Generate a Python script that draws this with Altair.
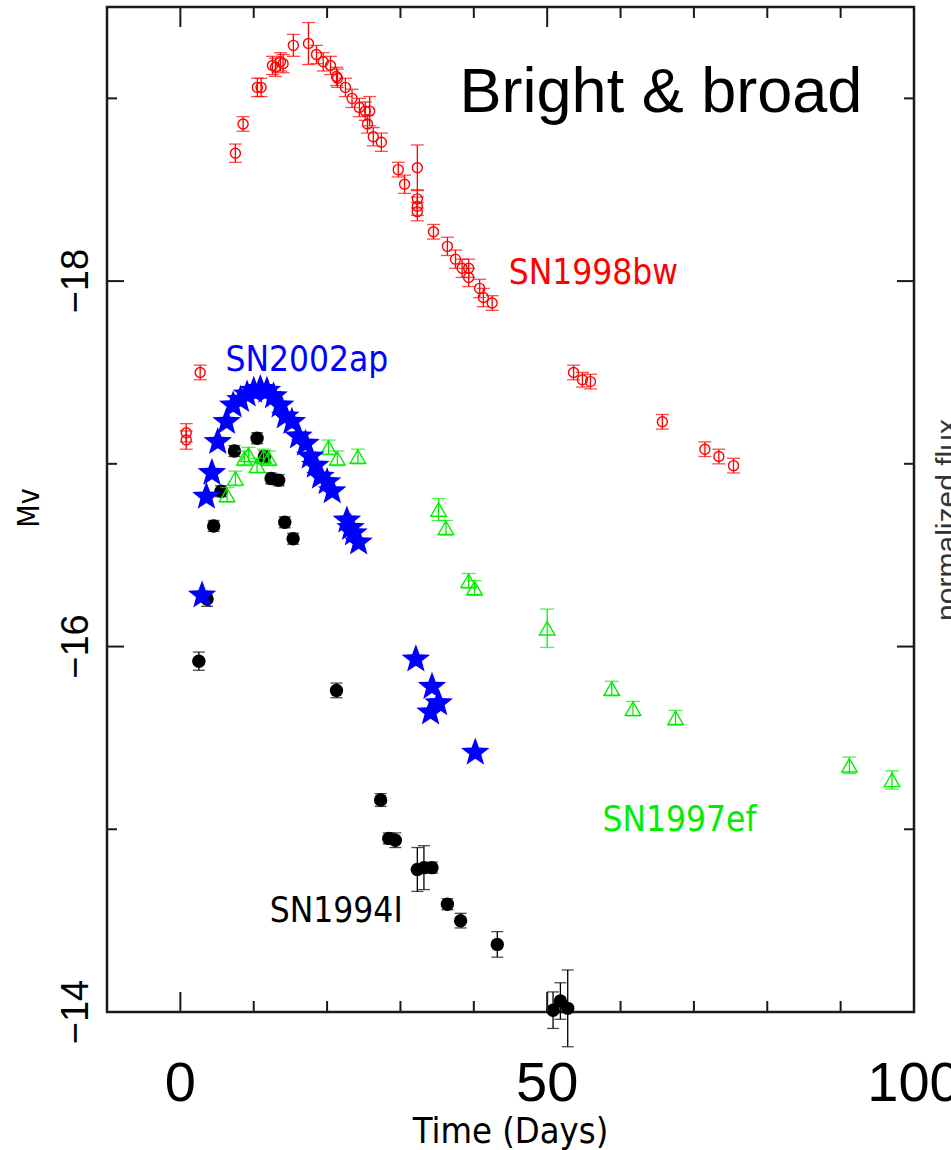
import altair as alt
import pandas as pd

# ---------------- data ----------------
# SN1998bw (red open circles with error bars)
bw_t = [0.8, 0.8, 2.7, 7.5, 8.55, 10.5, 11.0, 12.55, 12.96, 13.64, 14.0, 15.4, 17.46, 18.55,
        19.47, 20.46, 21.28, 21.42, 22.5, 23.4, 24.4, 25.2, 25.8, 25.5, 26.3, 27.4, 29.7, 30.56,
        32.3, 32.3, 32.3, 32.3, 34.5, 36.4, 37.5, 38.4, 39.3, 39.3, 40.8, 41.3, 42.5,
        53.6, 54.8, 55.9, 65.7, 71.5, 73.4, 75.4]
bw_m = [-17.17, -17.13, -17.50, -18.70, -18.86, -19.06, -19.06, -19.18, -19.17, -19.20, -19.19,
        -19.29, -19.30, -19.24, -19.20, -19.18, -19.12, -19.11, -19.06, -19.00, -18.95, -18.93,
        -18.93, -18.86, -18.79, -18.76, -18.61, -18.53, -18.62, -18.45, -18.41, -18.38, -18.27,
        -18.19, -18.12, -18.07, -18.07, -18.02, -17.96, -17.91, -17.88, -17.50, -17.46, -17.45,
        -17.23, -17.08, -17.04, -16.99]
bw_e = [0.05, 0.05, 0.04, 0.05, 0.04, 0.05, 0.05, 0.05, 0.05, 0.05, 0.05, 0.06, 0.115, 0.05,
        0.05, 0.05, 0.05, 0.05, 0.05, 0.05, 0.05, 0.05, 0.08, 0.05, 0.05, 0.05, 0.04, 0.05,
        0.125, 0.05, 0.05, 0.05, 0.04, 0.05, 0.05, 0.05, 0.05, 0.05, 0.05, 0.05, 0.04,
        0.04, 0.04, 0.04, 0.04, 0.04, 0.04, 0.04]

# SN2002ap (blue stars)
ap_t = [2.96, 3.55, 4.3, 5.1, 6.3, 7.2, 8.2, 9.1, 10.0, 10.9, 11.8, 12.7, 13.6, 14.3, 15.2, 16.1,
        17.05, 17.7, 18.4, 19.1, 20.0, 20.7, 22.7, 23.2, 23.6, 24.3, 32.1, 34.3, 35.2, 34.1, 40.2]
ap_m = [-16.28, -16.82, -16.95, -17.12, -17.23, -17.32, -17.35, -17.38, -17.40, -17.41, -17.40,
        -17.37, -17.32, -17.26, -17.23, -17.15, -17.11, -17.04, -16.99, -16.93, -16.90, -16.85,
        -16.69, -16.65, -16.62, -16.57, -15.93, -15.78, -15.69, -15.64, -15.42]

# SN1994I (black filled circles with error bars)
i_t = [2.52, 3.64, 4.54, 5.55, 7.37, 10.46, 11.46, 12.37, 13.4, 14.23, 15.37, 21.28, 27.3, 28.4,
       29.3, 32.3, 33.2, 34.3, 36.4, 38.2, 43.2, 50.8, 51.8, 52.8]
i_m = [-15.92, -16.26, -16.66, -16.85, -17.07, -17.14, -17.04, -16.92, -16.91, -16.68, -16.59,
       -15.76, -15.16, -14.95, -14.94, -14.78, -14.79, -14.79, -14.59, -14.50, -14.37, -14.01,
       -14.06, -14.02]
i_e = [0.05, 0.04, 0.03, 0.03, 0.03, 0.03, 0.03, 0.03, 0.03, 0.03, 0.03, 0.04, 0.035, 0.03,
       0.04, 0.12, 0.12, 0.03, 0.03, 0.04, 0.07, 0.10, 0.10, 0.21]

# SN1997ef (green open triangles with error bars)
ef_t = [6.37, 7.5, 8.73, 9.3, 10.46, 11.36, 12.05, 20.2, 21.4, 24.2, 35.2, 36.2, 39.3, 40.1,
        50.0, 58.8, 61.7, 67.5, 91.2, 97.0]
ef_m = [-16.83, -16.92, -17.03, -17.05, -16.99, -17.04, -17.03, -17.09, -17.03, -17.04, -16.75,
        -16.65, -16.36, -16.32, -16.10, -15.77, -15.66, -15.61, -15.35, -15.27]
ef_e = [0.04, 0.04, 0.04, 0.04, 0.04, 0.04, 0.04, 0.04, 0.04, 0.04, 0.06, 0.04, 0.04, 0.04,
        0.105, 0.04, 0.04, 0.04, 0.045, 0.05]

# annotations
lab_text = ["SN1998bw", "SN2002ap", "SN1997ef", "SN1994I"]
lab_t = [44.75, 6.14, 57.53, 12.18]
lab_m = [-17.984, -17.507, -14.99, -14.49]
lab_c = ["#ff0000", "#0000ff", "#00ee00", "#000000"]
head_text = ["Bright & broad"]
head_t = [38.06]
head_m = [-18.925]
side_text = ["normalized flux"]
x_title = ["Time (Days)"]
y_title = ["Mv"]

# axis ticks and tick labels
x_major = [0, 50]
x_minor = [10, 20, 30, 40, 60, 70, 80, 90]
y_major = [-18, -16]
y_minor = [-19, -17, -15]
x_labels = [0, 50, 100]
y_labels = [-18, -16, -14]

# ---------------- chart ----------------
W, H = 807, 1005
NARROW = "Liberation Sans Narrow, DejaVu Sans Condensed, Liberation Sans, sans-serif"
ARIAL = "Liberation Sans"
FRAME = "#1a1a1a"

xs = alt.Scale(domain=[-10, 100], nice=False, zero=False)
ys = alt.Scale(domain=[-19.5, -14], reverse=True, nice=False, zero=False)

RED, BLUE, GREEN, BLACK = "#ff0000", "#0000ff", "#00ee00", "#000000"

STAR = ("M0,-1L0.2469,-0.3399L0.9511,-0.309L0.3996,0.1298L0.5878,0.809L0,0.42"
        "L-0.5878,0.809L-0.3996,0.1298L-0.9511,-0.309L-0.2469,-0.3399Z")


def X(f="t"):
    return alt.X(f"{f}:Q", scale=xs, axis=None)


def Y(f="M"):
    return alt.Y(f"{f}:Q", scale=ys, axis=None)


def err_layers(df, color, cap, sw=1.3):
    base = alt.Chart(df).transform_calculate(lo="datum.M - datum.e", hi="datum.M + datum.e")
    bar = base.mark_rule(color=color, strokeWidth=sw).encode(x=X(), y=Y("lo"), y2="hi:Q")
    c1 = base.mark_tick(color=color, orient="horizontal", size=cap, thickness=sw).encode(
        x=X(), y=Y("lo"))
    c2 = base.mark_tick(color=color, orient="horizontal", size=cap, thickness=sw).encode(
        x=X(), y=Y("hi"))
    return [bar, c1, c2]


df_bw = pd.DataFrame({"t": bw_t, "M": bw_m, "e": bw_e})
df_ap = pd.DataFrame({"t": ap_t, "M": ap_m})
df_i = pd.DataFrame({"t": i_t, "M": i_m, "e": i_e})
df_ef = pd.DataFrame({"t": ef_t, "M": ef_m, "e": ef_e})

layers = []

# red series
layers += err_layers(df_bw, RED, 13)
layers.append(alt.Chart(df_bw).mark_point(shape="circle", size=100, color=RED, strokeWidth=1.4,
                                          filled=False, opacity=1).encode(x=X(), y=Y()))

# black series
layers += err_layers(df_i, BLACK, 12)
layers.append(alt.Chart(df_i).mark_point(shape="circle", size=180, color=BLACK, filled=True,
                                         opacity=1).encode(x=X(), y=Y()))

# green series
layers += err_layers(df_ef, GREEN, 14)
layers.append(alt.Chart(df_ef).mark_point(shape="triangle-up", size=240, color=GREEN,
                                          strokeWidth=1.4, filled=False, opacity=1).encode(
    x=X(), y=Y()))

# blue stars
layers.append(alt.Chart(df_ap).mark_point(shape=STAR, size=900, color=BLUE, filled=True,
                                          opacity=1).encode(x=X(), y=Y()))

# series labels
df_lab = pd.DataFrame({"txt": lab_text, "t": lab_t, "M": lab_m, "c": lab_c})
layers.append(alt.Chart(df_lab).mark_text(font=NARROW, fontSize=35, align="left",
                                          baseline="alphabetic").encode(
    x=X(), y=Y(), text="txt:N", color=alt.Color("c:N", scale=None)))

df_head = pd.DataFrame({"txt": head_text, "t": head_t, "M": head_m})
layers.append(alt.Chart(df_head).mark_text(font=ARIAL, fontSize=63, align="left",
                                           baseline="alphabetic", color="black").encode(
    x=X(), y=Y(), text="txt:N"))

# cut-off label of the neighbouring panel
df_side = pd.DataFrame({"txt": side_text})
layers.append(alt.Chart(df_side).mark_text(font=ARIAL, fontSize=30, angle=270,
                                           align="center", baseline="top",
                                           color="#333333").encode(
    x=alt.value(W + 19), y=alt.value(513), text="txt:N"))


# inward ticks on all four sides
def xticks(vals, length):
    d = pd.DataFrame({"v": vals})
    bot = alt.Chart(d).mark_rule(color=FRAME, strokeWidth=2).encode(
        x=X("v"), y=alt.value(H), y2=alt.value(H - length))
    top = alt.Chart(d).mark_rule(color=FRAME, strokeWidth=2).encode(
        x=X("v"), y=alt.value(0), y2=alt.value(length))
    return [bot, top]


def yticks(vals, length):
    d = pd.DataFrame({"v": vals})
    left = alt.Chart(d).mark_rule(color=FRAME, strokeWidth=2).encode(
        y=Y("v"), x=alt.value(0), x2=alt.value(length))
    right = alt.Chart(d).mark_rule(color=FRAME, strokeWidth=2).encode(
        y=Y("v"), x=alt.value(W), x2=alt.value(W - length))
    return [left, right]


layers += xticks(x_major, 20) + xticks(x_minor, 11)
layers += yticks(y_major, 17) + yticks(y_minor, 10)

# tick labels (drawn through the scales)
df_xl = pd.DataFrame({"v": x_labels, "s": [str(v) for v in x_labels]})
layers.append(alt.Chart(df_xl).mark_text(font=ARIAL, fontSize=56, align="center",
                                         baseline="alphabetic", color="black").encode(
    x=X("v"), y=alt.value(H + 89), text="s:N"))

df_yl = pd.DataFrame({"v": y_labels, "s": [str(v).replace("-", "\u2212") for v in y_labels]})
layers.append(alt.Chart(df_yl).mark_text(font=ARIAL, fontSize=38, angle=270, align="center",
                                         baseline="alphabetic", color="black").encode(
    y=Y("v"), x=alt.value(-19), text="s:N"))

# axis titles
layers.append(alt.Chart(pd.DataFrame({"s": x_title})).mark_text(
    font=NARROW, fontSize=36, align="center", baseline="alphabetic", color="black").encode(
    x=alt.value(W / 2), y=alt.value(H + 131), text="s:N"))
layers.append(alt.Chart(pd.DataFrame({"s": y_title})).mark_text(
    font=NARROW, fontSize=30, angle=270, align="center", baseline="alphabetic",
    color="black").encode(x=alt.value(-68), y=alt.value(501), text="s:N"))

chart = alt.layer(*layers).properties(
    width=W, height=H,
    background="white",
    autosize=alt.AutoSizeParams(type="none"),
    padding={"left": 107, "top": 7, "right": 37, "bottom": 138},
).configure_view(stroke=FRAME, strokeWidth=2.5)

chart.save("out.html", embed_options={"renderer": "svg", "actions": False})
